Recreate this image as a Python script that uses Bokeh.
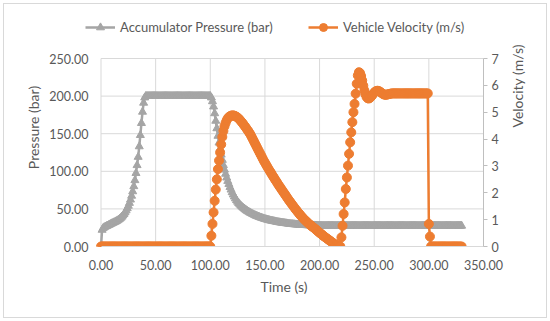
import math
from bokeh.plotting import figure
from bokeh.models import (Range1d, LinearAxis, FixedTicker, NumeralTickFormatter,
                          Legend, LegendItem, ColumnDataSource, InlineStyleSheet)
from bokeh.embed import file_html
from bokeh.resources import INLINE

# ---------------- data (1 s sampling) ----------------
time_s = list(range(0, 331))

pressure_bar = [
    0, 22, 24.5, 25.5, 26.3, 27, 27.7, 28.4, 29.2, 30,
    30.7, 31.4, 32.1, 32.8, 33.6, 34.5, 35.5, 36.6, 37.9, 39.4,
    41.1, 43, 45.2, 47.8, 50.7, 54, 57.8, 62.2, 67.3, 73.2,
    80, 88, 97.5, 108, 119, 133, 148, 164, 179, 191,
    198, 200, 200, 200, 200, 200, 200, 200, 200, 200,
    200, 200, 200, 200, 200, 200, 200, 200, 200, 200,
    200, 200, 200, 200, 200, 200, 200, 200, 200, 200,
    200, 200, 200, 200, 200, 200, 200, 200, 200, 200,
    200, 200, 200, 200, 200, 200, 200, 200, 200, 200,
    200, 200, 200, 200, 200, 200, 200, 200, 200, 200,
    200, 198, 193, 186, 177, 167, 157, 147, 138, 130,
    122, 115, 108, 102, 96.5, 91.5, 87, 83, 79, 75.5,
    72, 69, 66.3, 63.8, 61.5, 59.4, 57.5, 55.8, 54.2, 52.8,
    51.5, 50.3, 49.2, 48.1, 47.1, 46.2, 45.3, 44.5, 43.7, 42.9,
    42.2, 41.5, 40.8, 40.2, 39.6, 39.0, 38.5, 38.0, 37.5, 37.0,
    36.5, 36.1, 35.7, 35.3, 34.9, 34.5, 34.2, 33.9, 33.6, 33.3,
    33.0, 32.7, 32.4, 32.1, 31.9, 31.6, 31.4, 31.2, 31.0, 30.8,
    30.6, 30.4, 30.2, 30.0, 29.8, 29.7, 29.5, 29.4, 29.2, 29.1,
    29.0, 28.9, 28.8, 28.7, 28.6, 28.5, 28.4, 28.3, 28.2, 28.1,
    28.0, 28.0, 27.9, 27.9, 27.8, 27.8, 27.7, 27.7, 27.6, 27.6,
    27.5, 27.5, 27.5, 27.5, 27.5, 27.5, 27.5, 27.5, 27.5, 27.5,
    27.5, 27.5, 27.5, 27.5, 27.5, 27.5, 27.5, 27.5, 27.5, 27.5,
    27.5, 27.5, 27.5, 27.5, 27.5, 27.5, 27.5, 27.5, 27.5, 27.5,
    27.5, 27.5, 27.5, 27.5, 27.5, 27.5, 27.5, 27.5, 27.5, 27.5,
    27.5, 27.5, 27.5, 27.5, 27.5, 27.5, 27.5, 27.5, 27.5, 27.5,
    27.5, 27.5, 27.5, 27.5, 27.5, 27.5, 27.5, 27.5, 27.5, 27.5,
    27.5, 27.5, 27.5, 27.5, 27.5, 27.5, 27.5, 27.5, 27.5, 27.5,
    27.5, 27.5, 27.5, 27.5, 27.5, 27.5, 27.5, 27.5, 27.5, 27.5,
    27.5, 27.5, 27.5, 27.5, 27.5, 27.5, 27.5, 27.5, 27.5, 27.5,
    27.5, 27.5, 27.5, 27.5, 27.5, 27.5, 27.5, 27.5, 27.5, 27.5,
    27.5, 27.5, 27.5, 27.5, 27.5, 27.5, 27.5, 27.5, 27.5, 27.5,
    27.5, 27.5, 27.5, 27.5, 27.5, 27.5, 27.5, 27.5, 27.5, 27.5,
    27.5, 27.5, 27.5, 27.5, 27.5, 27.5, 27.5, 27.5, 27.5, 27.5,
    27.5,
]

velocity_ms = [
    0, 0, 0, 0, 0, 0, 0, 0, 0, 0,
    0, 0, 0, 0, 0, 0, 0, 0, 0, 0,
    0, 0, 0, 0, 0, 0, 0, 0, 0, 0,
    0, 0, 0, 0, 0, 0, 0, 0, 0, 0,
    0, 0, 0, 0, 0, 0, 0, 0, 0, 0,
    0, 0, 0, 0, 0, 0, 0, 0, 0, 0,
    0, 0, 0, 0, 0, 0, 0, 0, 0, 0,
    0, 0, 0, 0, 0, 0, 0, 0, 0, 0,
    0, 0, 0, 0, 0, 0, 0, 0, 0, 0,
    0, 0, 0, 0, 0, 0, 0, 0, 0, 0,
    0, 0.40, 0.84, 1.27, 1.70, 2.12, 2.50, 2.88, 3.20, 3.50,
    3.80, 4.08, 4.30, 4.48, 4.60, 4.70, 4.77, 4.82, 4.85, 4.87,
    4.88, 4.88, 4.87, 4.85, 4.83, 4.80, 4.76, 4.72, 4.67, 4.62,
    4.57, 4.51, 4.46, 4.40, 4.34, 4.28, 4.22, 4.15, 4.07, 3.99,
    3.91, 3.83, 3.75, 3.67, 3.59, 3.51, 3.43, 3.35, 3.27, 3.19,
    3.12, 3.05, 2.98, 2.91, 2.84, 2.78, 2.71, 2.64, 2.58, 2.51,
    2.45, 2.39, 2.32, 2.26, 2.20, 2.14, 2.08, 2.02, 1.96, 1.90,
    1.84, 1.78, 1.72, 1.67, 1.61, 1.56, 1.50, 1.45, 1.39, 1.34,
    1.29, 1.24, 1.19, 1.14, 1.10, 1.05, 1.01, 0.97, 0.93, 0.89,
    0.85, 0.82, 0.78, 0.75, 0.72, 0.69, 0.65, 0.62, 0.58, 0.55,
    0.51, 0.48, 0.45, 0.41, 0.38, 0.35, 0.32, 0.29, 0.26, 0.23,
    0.20, 0.17, 0.14, 0.11, 0.08, 0.06, 0.04, 0.02, 0.00, 0.00,
    0.34, 0.77, 1.21, 1.64, 2.14, 2.57, 3.01, 3.45, 3.88, 4.25,
    4.63, 5.00, 5.31, 5.69, 6.06, 6.37, 6.49, 6.46, 6.35, 6.18,
    5.99, 5.81, 5.67, 5.57, 5.52, 5.51, 5.53, 5.57, 5.62, 5.68,
    5.73, 5.77, 5.79, 5.80, 5.79, 5.77, 5.74, 5.71, 5.68, 5.66,
    5.65, 5.65, 5.66, 5.67, 5.68, 5.69, 5.70, 5.70, 5.70, 5.70,
    5.70, 5.70, 5.70, 5.70, 5.70, 5.70, 5.70, 5.70, 5.70, 5.70,
    5.70, 5.70, 5.70, 5.70, 5.70, 5.70, 5.70, 5.70, 5.70, 5.70,
    5.70, 5.70, 5.70, 5.70, 5.70, 5.70, 5.70, 5.70, 5.70, 5.70,
    0.84, 0.37, 0, 0, 0, 0, 0, 0, 0, 0,
    0, 0, 0, 0, 0, 0, 0, 0, 0, 0,
    0, 0, 0, 0, 0, 0, 0, 0, 0, 0,
    0,
]

x_ticks = [0, 50, 100, 150, 200, 250, 300, 350]
p_ticks = [0, 50, 100, 150, 200, 250]
v_ticks = [0, 1, 2, 3, 4, 5, 6, 7]

series_names = ["Accumulator Pressure (bar)", "Vehicle Velocity (m/s)"]
x_title = "Time (s)"
left_title = "Pressure (bar)"
right_title = "Velocity (m/s)"

# ---------------- styling ----------------
GRAY = "#A5A5A5"
ORANGE = "#ED7D31"
GRID = "#D9D9D9"
TEXT = "#595959"
FONT = "Lato"

# the frame is extended to the left and upward so the legend row fits inside it;
# the data area itself (0..350 s, 0..250 bar) sits at the reference position
X_MIN, X_MAX = -15.1, 350
P_MAX = 316.49                   # top of frame in bar units
V_MAX = P_MAX * 7 / 250          # matching top for the velocity scale

W, H = 550, 321
p = figure(width=W, height=H, output_backend="svg", toolbar_location=None,
           x_range=Range1d(X_MIN, X_MAX), y_range=Range1d(0, P_MAX),
           min_border_left=84, min_border_right=67, min_border_top=8,
           min_border_bottom=75, background_fill_color="white",
           border_fill_alpha=0)
p.stylesheets = [InlineStyleSheet(css=":host { outline: 1px solid #D9D9D9; outline-offset: -4px; }")]
p.outline_line_color = None
p.extra_y_ranges = {"v": Range1d(0, V_MAX)}
p.xgrid.visible = False
p.ygrid.visible = False

src = ColumnDataSource(dict(t=time_s, pr=pressure_bar, v=velocity_ms))

# grid lines limited to the data area
p.segment(x0=x_ticks, x1=x_ticks, y0=[p_ticks[0]] * len(x_ticks), y1=[p_ticks[-1]] * len(x_ticks),
          line_color=GRID, line_width=1)
p.segment(x0=[x_ticks[0]] * len(p_ticks), x1=[x_ticks[-1]] * len(p_ticks), y0=p_ticks, y1=p_ticks,
          line_color=GRID, line_width=1)

# bottom axis
xa = p.xaxis[0]
xa.ticker = FixedTicker(ticks=x_ticks)
xa.bounds = (x_ticks[0], x_ticks[-1])
xa.formatter = NumeralTickFormatter(format="0.00")
xa.axis_line_color = GRID
xa.major_tick_line_color = None
xa.minor_tick_line_color = None
xa.major_label_standoff = 7
xa.axis_label = x_title
xa.axis_label_standoff = 5

# left axis
ya = p.yaxis[0]
ya.ticker = FixedTicker(ticks=p_ticks)
ya.bounds = (p_ticks[0], p_ticks[-1])
ya.formatter = NumeralTickFormatter(format="0.00")
ya.axis_line_color = None
ya.major_tick_line_color = None
ya.minor_tick_line_color = None
ya.major_tick_out = 0
ya.major_label_standoff = -4
ya.axis_label = left_title
ya.axis_label_standoff = 4

# right axis
ra = LinearAxis(y_range_name="v", ticker=FixedTicker(ticks=v_ticks))
ra.bounds = (v_ticks[0], v_ticks[-1])
ra.axis_line_color = "#BFBFBF"
ra.major_tick_line_color = "#BFBFBF"
ra.major_tick_out = 4
ra.major_tick_in = 0
ra.minor_tick_line_color = None
ra.major_label_standoff = 4
ra.axis_label = right_title
ra.axis_label_standoff = 16
if "axis_label_orientation" in ra.properties():
    ra.axis_label_orientation = math.pi / 2
    ra.axis_label_text_align = "center"
    ra.axis_label_text_baseline = "middle"
p.add_layout(ra, "right")

for ax in (xa, ya, ra):
    ax.major_label_text_font = FONT
    ax.major_label_text_font_size = "12.5px"
    ax.major_label_text_color = TEXT
    ax.axis_label_text_font = FONT
    ax.axis_label_text_font_size = "14px"
    ax.axis_label_text_font_style = "normal"
    ax.axis_label_text_color = TEXT

# series
pl = p.line("t", "pr", source=src, line_color=GRAY, line_width=2.5)
pm = p.scatter("t", "pr", source=src, marker="triangle", size=8,
               fill_color=GRAY, line_color=GRAY)
vl = p.line("t", "v", source=src, y_range_name="v", line_color=ORANGE, line_width=2.5)
vm = p.scatter("t", "v", source=src, y_range_name="v", marker="circle", size=9,
               fill_color=ORANGE, line_color=ORANGE)

def mk_legend(item, loc):
    return Legend(items=[item], location=loc, orientation="horizontal",
                  padding=0, margin=0, spacing=0, glyph_width=30, glyph_height=20,
                  label_height=20, label_standoff=5, border_line_color=None,
                  background_fill_alpha=0, label_text_font=FONT,
                  label_text_font_size="13px", label_text_color=TEXT)

p.add_layout(mk_legend(LegendItem(label=series_names[0], renderers=[pl, pm]), (1, 209)))
p.add_layout(mk_legend(LegendItem(label=series_names[1], renderers=[vl, vm]), (224, 209)))

open("out.html", "w").write(file_html(p, INLINE))
